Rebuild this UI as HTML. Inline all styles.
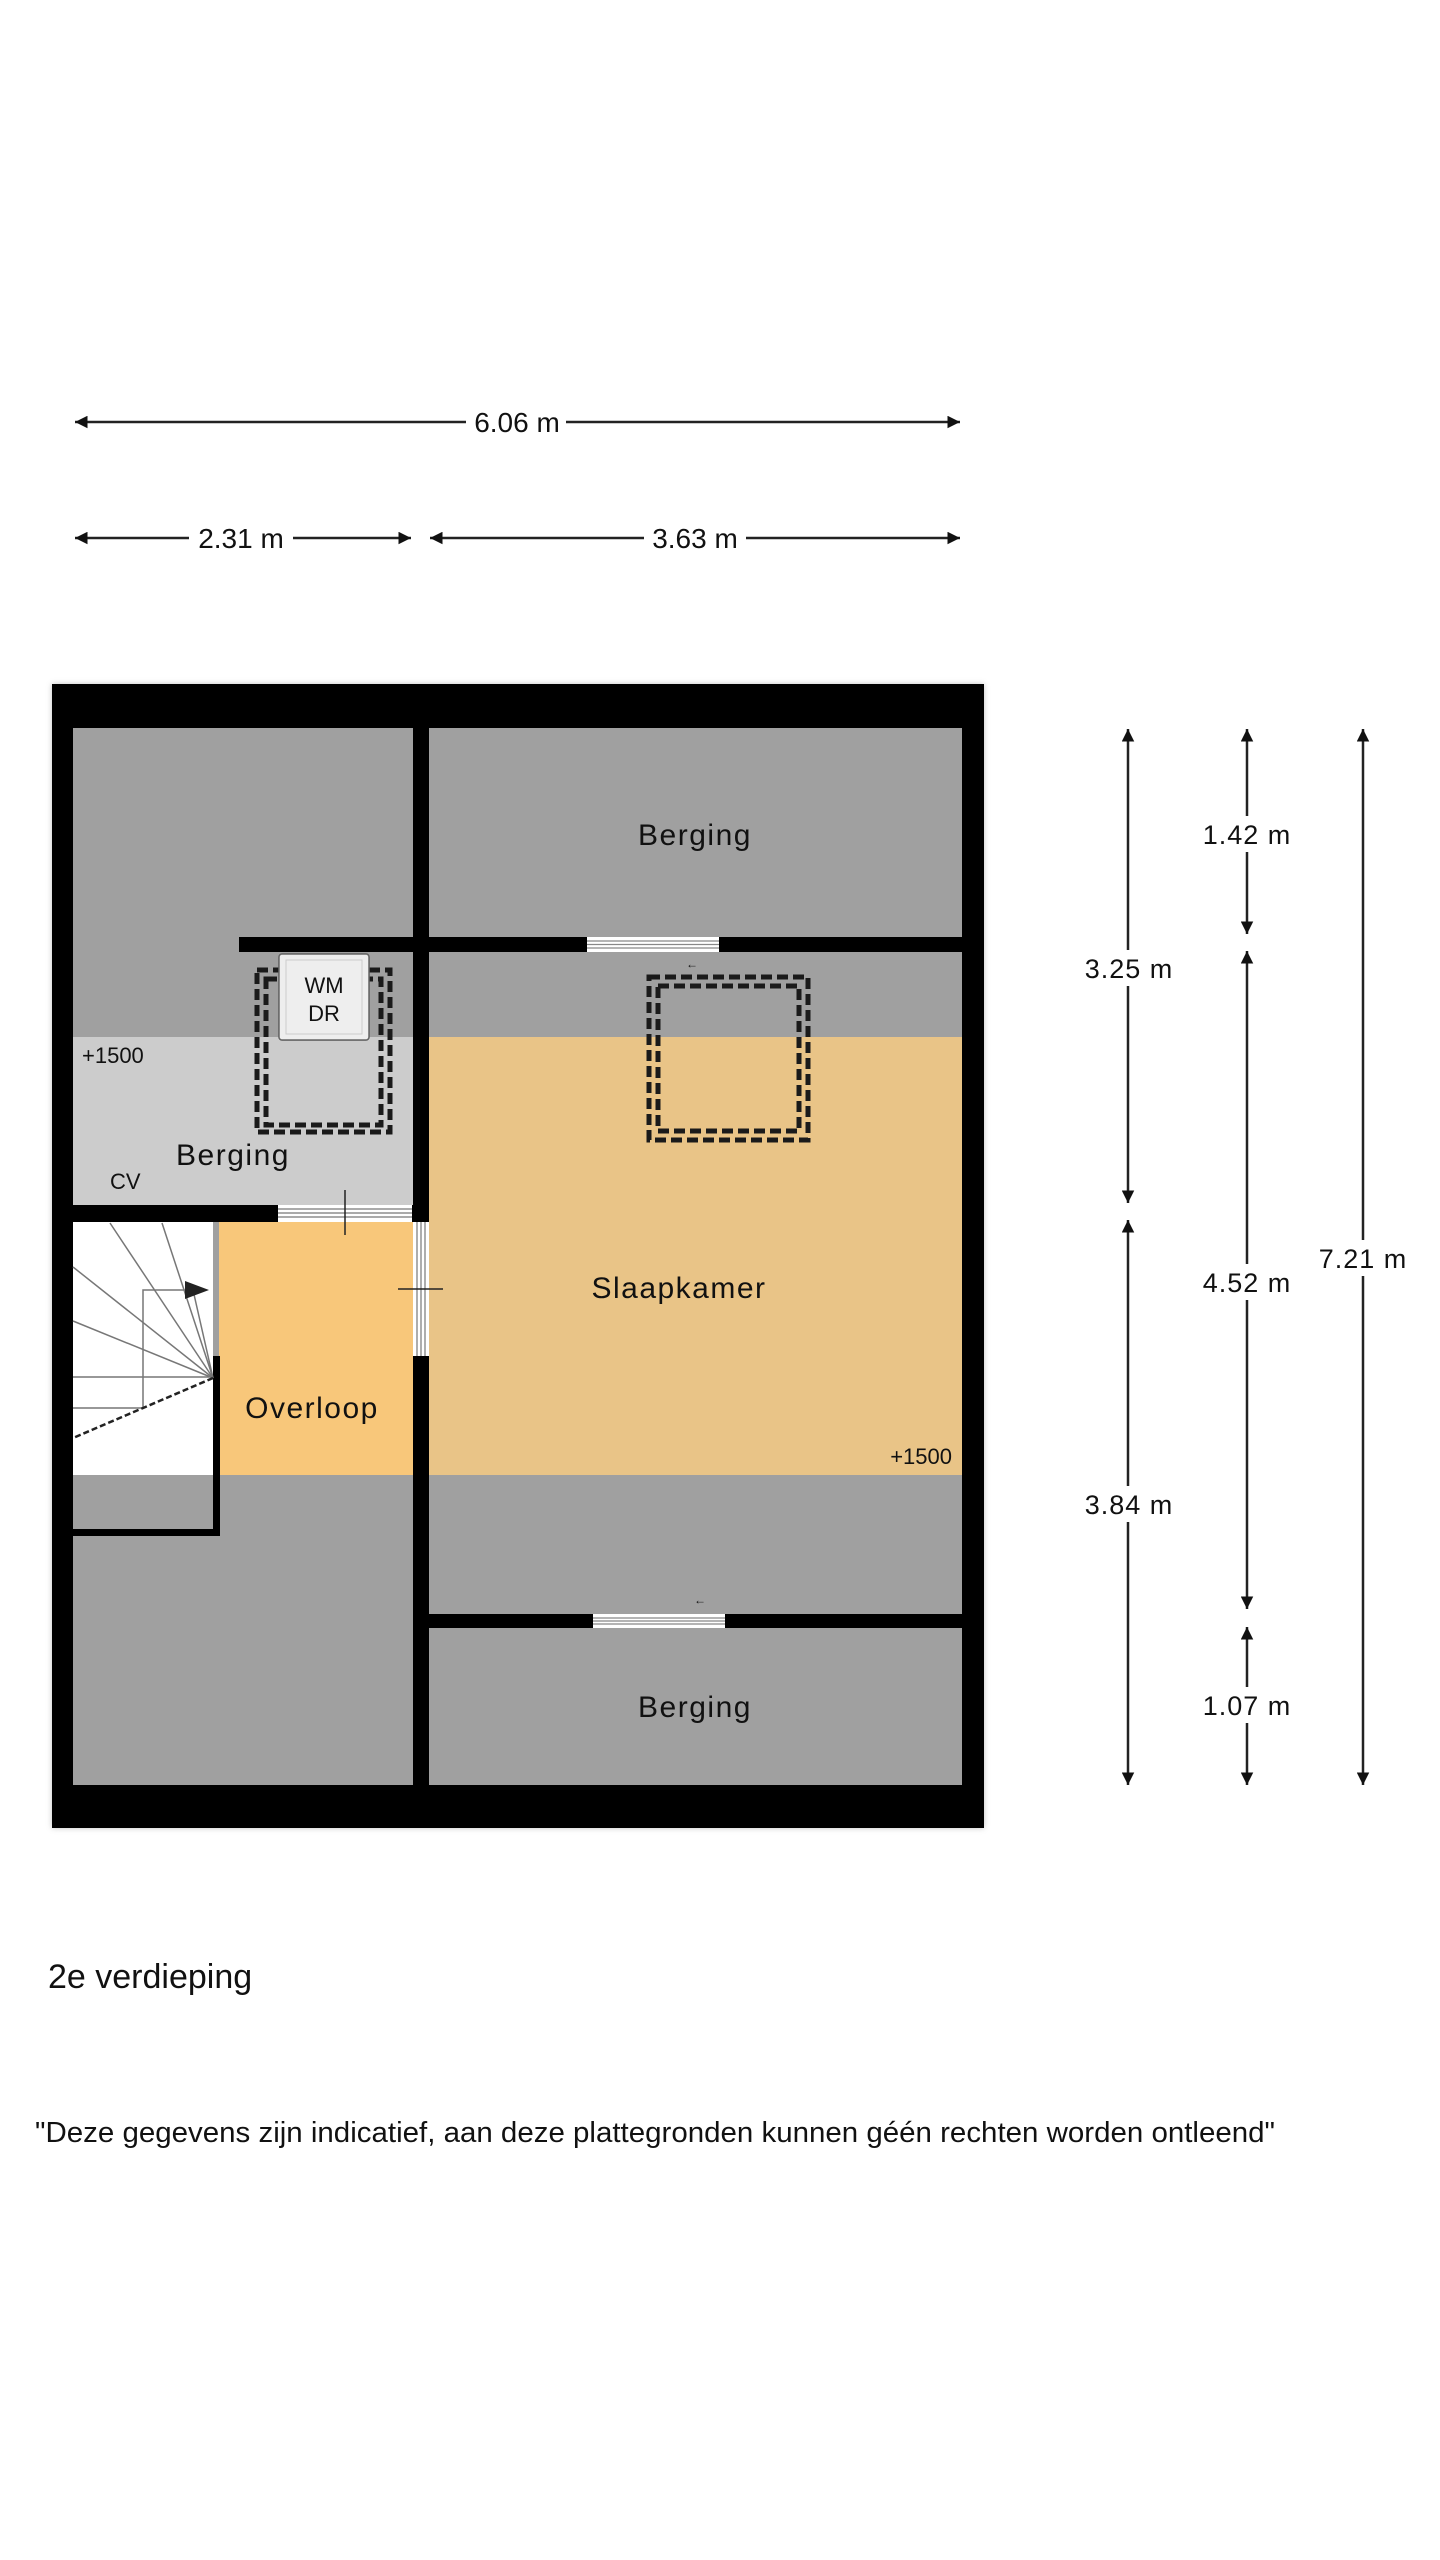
<!DOCTYPE html>
<html><head><meta charset="utf-8"><style>
html,body{margin:0;padding:0;background:#fff;}
svg{display:block;}
text{font-family:"Liberation Sans",Arial,sans-serif;fill:#111;}
</style></head><body>
<svg width="1440" height="2560" viewBox="0 0 1440 2560" xmlns="http://www.w3.org/2000/svg">
<defs>
<marker id="ah" viewBox="0 0 10 10" refX="10" refY="5" markerWidth="5" markerHeight="5" orient="auto-start-reverse"><path d="M0,0 L10,5 L0,10 z" fill="#111"/></marker>
<filter id="sh" x="-5%" y="-5%" width="110%" height="110%"><feGaussianBlur stdDeviation="3"/></filter>
</defs>
<rect width="1440" height="2560" fill="#fff"/>

<!-- horizontal dimensions -->
<g stroke="#222" stroke-width="2.5" fill="none">
<line x1="75" y1="422" x2="466" y2="422" marker-start="url(#ah)"/>
<line x1="566" y1="422" x2="960" y2="422" marker-end="url(#ah)"/>
<line x1="75" y1="538" x2="189" y2="538" marker-start="url(#ah)"/>
<line x1="293" y1="538" x2="411" y2="538" marker-end="url(#ah)"/>
<line x1="430" y1="538" x2="644" y2="538" marker-start="url(#ah)"/>
<line x1="746" y1="538" x2="960" y2="538" marker-end="url(#ah)"/>
</g>
<g font-size="28" text-anchor="middle">
<text x="517" y="432">6.06 m</text>
<text x="241" y="548">2.31 m</text>
<text x="695" y="548">3.63 m</text>
</g>

<!-- vertical dimensions -->
<g stroke="#222" stroke-width="2.5" fill="none">
<line x1="1128" y1="729" x2="1128" y2="950" marker-start="url(#ah)"/>
<line x1="1128" y1="986" x2="1128" y2="1203" marker-end="url(#ah)"/>
<line x1="1128" y1="1220" x2="1128" y2="1486" marker-start="url(#ah)"/>
<line x1="1128" y1="1522" x2="1128" y2="1785" marker-end="url(#ah)"/>
<line x1="1247" y1="729" x2="1247" y2="816" marker-start="url(#ah)"/>
<line x1="1247" y1="852" x2="1247" y2="934" marker-end="url(#ah)"/>
<line x1="1247" y1="951" x2="1247" y2="1264" marker-start="url(#ah)"/>
<line x1="1247" y1="1300" x2="1247" y2="1609" marker-end="url(#ah)"/>
<line x1="1247" y1="1627" x2="1247" y2="1687" marker-start="url(#ah)"/>
<line x1="1247" y1="1723" x2="1247" y2="1785" marker-end="url(#ah)"/>
<line x1="1363" y1="729" x2="1363" y2="1240" marker-start="url(#ah)"/>
<line x1="1363" y1="1276" x2="1363" y2="1785" marker-end="url(#ah)"/>
</g>
<g font-size="27" text-anchor="middle" letter-spacing="1">
<text x="1129" y="978">3.25 m</text>
<text x="1129" y="1514">3.84 m</text>
<text x="1247" y="844">1.42 m</text>
<text x="1247" y="1292">4.52 m</text>
<text x="1247" y="1715">1.07 m</text>
<text x="1363" y="1268">7.21 m</text>
</g>

<!-- plan -->
<rect x="52" y="684" width="932" height="1144" fill="#888" filter="url(#sh)" opacity="0.5"/>
<rect x="52" y="684" width="932" height="1144" fill="#000"/>
<!-- floors -->
<rect x="73" y="728" width="340" height="309" fill="#a0a0a0"/>
<rect x="73" y="1037" width="340" height="168" fill="#cccccc"/>
<rect x="429" y="728" width="533" height="309" fill="#a0a0a0"/>
<rect x="429" y="1037" width="533" height="438" fill="#e9c487"/>
<rect x="429" y="1475" width="533" height="310" fill="#a0a0a0"/>
<rect x="73" y="1222" width="340" height="563" fill="#a0a0a0"/>
<rect x="219" y="1222" width="194" height="253" fill="#f8c77a"/>
<rect x="73" y="1222" width="140" height="253" fill="#fff"/>
<!-- walls -->
<rect x="413" y="728" width="16" height="1057" fill="#000"/>
<rect x="239" y="937" width="723" height="15" fill="#000"/>
<rect x="429" y="1614" width="533" height="14" fill="#000"/>
<rect x="73" y="1205" width="340" height="17" fill="#000"/>
<rect x="213" y="1356" width="7" height="179" fill="#000"/>
<rect x="73" y="1529" width="147" height="7" fill="#000"/>
<!-- windows/doors -->
<g>
<rect x="587" y="937" width="132" height="15" fill="#fff"/>
<g stroke="#888" stroke-width="1.2"><line x1="587" y1="941" x2="719" y2="941"/><line x1="587" y1="944.5" x2="719" y2="944.5"/><line x1="587" y1="948" x2="719" y2="948"/></g>
<rect x="593" y="1614" width="132" height="14" fill="#fff"/>
<g stroke="#888" stroke-width="1.2"><line x1="593" y1="1618" x2="725" y2="1618"/><line x1="593" y1="1621" x2="725" y2="1621"/><line x1="593" y1="1624" x2="725" y2="1624"/></g>
<rect x="278" y="1205" width="134" height="17" fill="#fff"/>
<g stroke="#777" stroke-width="1.2"><line x1="278" y1="1209" x2="412" y2="1209"/><line x1="278" y1="1213" x2="412" y2="1213"/><line x1="278" y1="1217" x2="412" y2="1217"/></g>
<line x1="345" y1="1190" x2="345" y2="1235" stroke="#222" stroke-width="1.5"/>
<rect x="413" y="1222" width="16" height="134" fill="#fff"/>
<g stroke="#777" stroke-width="1.2"><line x1="417" y1="1222" x2="417" y2="1356"/><line x1="421" y1="1222" x2="421" y2="1356"/><line x1="425" y1="1222" x2="425" y2="1356"/></g>
<line x1="398" y1="1289" x2="443" y2="1289" stroke="#222" stroke-width="1.5"/>
</g>
<!-- stairs -->
<g stroke="#777" stroke-width="1.5" fill="none">
<line x1="213" y1="1378" x2="110" y2="1223"/>
<line x1="213" y1="1378" x2="162" y2="1223"/>
<line x1="213" y1="1378" x2="73" y2="1267"/>
<line x1="213" y1="1378" x2="73" y2="1321"/>
<line x1="213" y1="1378" x2="193" y2="1290"/>
<line x1="73" y1="1377" x2="213" y2="1377"/>
<line x1="73" y1="1408" x2="143" y2="1408"/>
<polyline points="143,1408 143,1290 185,1290"/>
</g>
<line x1="213" y1="1378" x2="73" y2="1438" stroke="#222" stroke-width="2.5" stroke-dasharray="6,3"/>
<path d="M185,1281 L209,1290 L185,1299 z" fill="#222"/>
<!-- WM/DR -->
<rect x="279" y="954" width="90" height="86" rx="3" fill="#eee" stroke="#666" stroke-width="1.5"/>
<rect x="286" y="960" width="76" height="74" fill="none" stroke="#ccc" stroke-width="1"/>
<g font-size="22" text-anchor="middle"><text x="324" y="993">WM</text><text x="324" y="1021">DR</text></g>
<!-- dashed rects -->
<g fill="none" stroke="#1a1a1a" stroke-width="5" stroke-dasharray="11,5">
<rect x="257" y="970" width="133" height="162"/>
<rect x="266" y="979" width="115" height="146"/>
<rect x="649" y="977" width="159" height="163"/>
<rect x="658" y="986" width="141" height="145"/>
</g>
<rect x="279" y="954" width="90" height="86" rx="3" fill="#eee" stroke="#666" stroke-width="1.5"/>
<rect x="286" y="960" width="76" height="74" fill="none" stroke="#ccc" stroke-width="1"/>
<g font-size="22" text-anchor="middle"><text x="324" y="993">WM</text><text x="324" y="1021">DR</text></g>
<g font-size="12" text-anchor="middle"><text x="692" y="968">←</text><text x="700" y="1604">←</text></g>
<!-- labels -->
<g font-size="30" text-anchor="middle" letter-spacing="1.5">
<text x="695" y="845">Berging</text>
<text x="233" y="1165">Berging</text>
<text x="679" y="1298">Slaapkamer</text>
<text x="312" y="1418">Overloop</text>
<text x="695" y="1717">Berging</text>
</g>
<g font-size="22">
<text x="82" y="1063">+1500</text>
<text x="110" y="1189">CV</text>
<text x="952" y="1464" text-anchor="end">+1500</text>
</g>

<text x="48" y="1988" font-size="34">2e verdieping</text>
<text x="35" y="2142" font-size="29" textLength="1240" lengthAdjust="spacingAndGlyphs">"Deze gegevens zijn indicatief, aan deze plattegronden kunnen géén rechten worden ontleend"</text>
</svg>
</body></html>
